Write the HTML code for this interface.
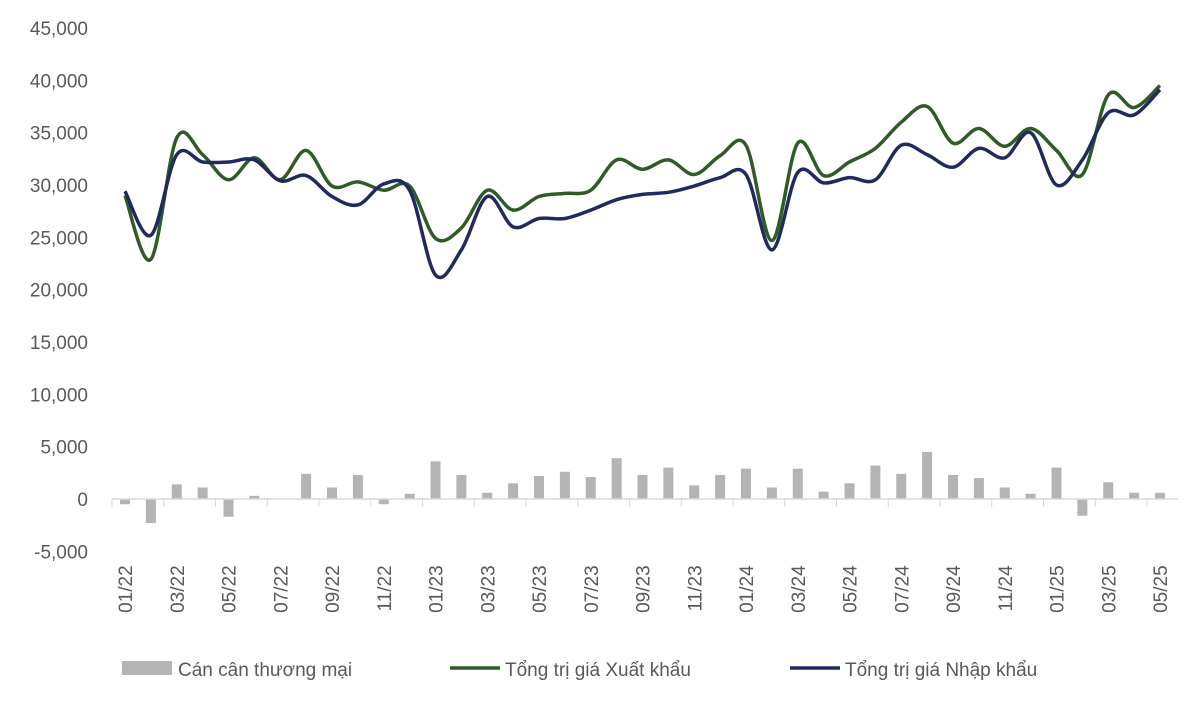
<!DOCTYPE html>
<html><head><meta charset="utf-8"><style>
body{margin:0;background:#fff;}
svg text{font-family:"Liberation Sans",sans-serif;fill:#595959;}
</style></head><body>
<svg id="chart" width="1200" height="698" xmlns="http://www.w3.org/2000/svg"></svg>
<script>
const months=["01/22","02/22","03/22","04/22","05/22","06/22","07/22","08/22","09/22","10/22","11/22","12/22","01/23","02/23","03/23","04/23","05/23","06/23","07/23","08/23","09/23","10/23","11/23","12/23","01/24","02/24","03/24","04/24","05/24","06/24","07/24","08/24","09/24","10/24","11/24","12/24","01/25","02/25","03/25","04/25","05/25"];
const balance=[-500,-2300,1400,1100,-1700,300,0,2400,1100,2300,-500,500,3600,2300,600,1500,2200,2600,2100,3900,2300,3000,1300,2300,2900,1100,2900,700,1500,3200,2400,4500,2300,2000,1100,500,3000,-1600,1600,600,600];
const exportVals=[29000,22900,34500,32900,30500,32600,30500,33300,29900,30300,29500,29900,24900,25900,29500,27600,28900,29200,29500,32400,31500,32400,31000,32800,33800,24700,34000,30900,32200,33500,36000,37500,34000,35400,33700,35400,33300,31000,38600,37400,39500];
const importVals=[29400,25200,32900,32200,32200,32400,30400,30900,28900,28100,30100,29500,21400,23800,28900,26000,26800,26800,27600,28600,29100,29300,29900,30700,31000,23800,31200,30200,30700,30500,33800,32900,31700,33500,32600,35000,30000,32400,36900,36700,39100];
const yTicks=[-5000,0,5000,10000,15000,20000,25000,30000,35000,40000,45000];
const yTickLabels=["-5,000","0","5,000","10,000","15,000","20,000","25,000","30,000","35,000","40,000","45,000"];

const svg=document.getElementById('chart');
const NS='http://www.w3.org/2000/svg';
const x=i=>125+i*(1160-125)/(months.length-1);
const y=v=>499-v*(471/45000);
function mk(t,a){const e=document.createElementNS(NS,t);for(const k in a)e.setAttribute(k,a[k]);svg.appendChild(e);return e;}

yTicks.forEach((v,i)=>{
  const t=mk('text',{x:88,y:y(v)+7,'text-anchor':'end','font-size':19});
  t.textContent=yTickLabels[i];
  
  
});
balance.forEach((v,i)=>{
  const r=mk('rect',{x:x(i)-5,y:Math.min(y(v),y(0)),width:10,height:Math.abs(y(v)-y(0)),fill:'#b4b4b4'});
  
  
});
const ax=mk('line',{x1:112,x2:1178,y1:y(0),y2:y(0),stroke:'#d9d9d9','stroke-width':1.5});


for(let i=0;i<=months.length;i+=2){
  const tk=mk('line',{x1:x(i)-13,x2:x(i)-13,y1:y(0),y2:y(0)+8,stroke:'#d9d9d9','stroke-width':1});
  
  
}
months.forEach((m,i)=>{
  if(i%2) return;
  const t=mk('text',{x:0,y:0,'text-anchor':'end','font-size':19,transform:`translate(${x(i)+7},${y(-5000)+14}) rotate(-90)`});
  t.textContent=m;
  
  
});
function smooth(vals){
  const p=vals.map((v,i)=>[x(i),y(v)]);
  let d=`M${p[0][0]},${p[0][1]}`;
  for(let i=0;i<p.length-1;i++){
    const p0=p[i-1]||p[i],p1=p[i],p2=p[i+1],p3=p[i+2]||p2;
    d+=` C${p1[0]+(p2[0]-p0[0])/6},${p1[1]+(p2[1]-p0[1])/6} ${p2[0]-(p3[0]-p1[0])/6},${p2[1]-(p3[1]-p1[1])/6} ${p2[0]},${p2[1]}`;
  }
  return d;
}
const le=mk('path',{d:smooth(exportVals),fill:'none',stroke:'#2f5b26','stroke-width':3.5});


const li=mk('path',{d:smooth(importVals),fill:'none',stroke:'#212a5f','stroke-width':3.5});


</script>
<svg style="position:absolute;left:0;top:0" width="1200" height="698">
<g><rect x="122" y="661" width="50" height="14" fill="#b4b4b4"/><text x="178" y="676" font-size="19">Cán cân thương mại</text></g>
<g><line x1="450" x2="500" y1="668" y2="668" stroke="#2f5b26" stroke-width="3.5"/><text x="505" y="676" font-size="19">Tổng trị giá Xuất khẩu</text></g>
<g><line x1="790" x2="840" y1="668" y2="668" stroke="#212a5f" stroke-width="3.5"/><text x="845" y="676" font-size="19">Tổng trị giá Nhập khẩu</text></g>
</svg>
</body></html>
